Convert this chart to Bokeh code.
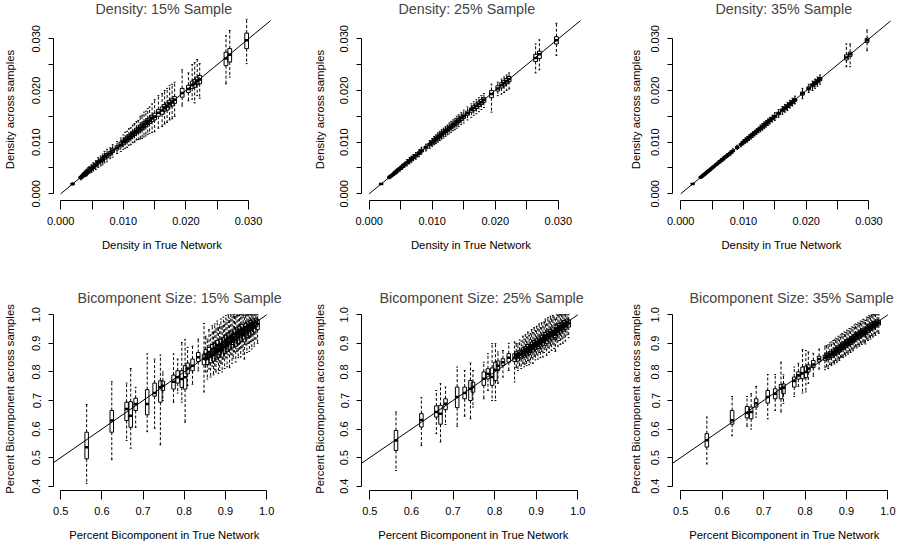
import numpy as np
from bokeh.plotting import figure
from bokeh.layouts import column, row
from bokeh.models import FixedTicker, Range1d
from bokeh.embed import file_html
from bokeh.resources import INLINE

FONT = "Liberation Sans"

# ---------------- Density panels (values in units of 0.0001) ----------------
dens_true = [19, 32, 34, 36, 38, 40, 42, 44, 46, 49, 52, 56, 60, 64, 67, 70, 74, 79, 83, 90,
             96, 100, 103, 106, 109, 112, 115, 118, 121, 124, 127, 130, 133, 136, 139, 142, 146, 150, 156, 162,
             166, 170, 174, 178, 182, 194, 204, 210, 214, 218, 222, 264, 270, 297]

d15_med = [19, 32, 33, 36, 38, 40, 41, 44, 46, 48, 52, 56, 61, 64, 66, 71, 74, 78, 84, 89,
           95, 100, 104, 105, 110, 111, 116, 117, 122, 123, 128, 129, 134, 135, 140, 141, 147, 149, 157, 161,
           167, 169, 175, 177, 182, 195, 203, 211, 213, 219, 221, 262, 269, 297]
d15_q1 = [18, 30, 32, 34, 36, 38, 39, 42, 44, 46, 49, 53, 58, 61, 63, 67, 70, 75, 80, 85,
          91, 96, 99, 101, 105, 107, 111, 113, 117, 119, 122, 124, 128, 130, 134, 136, 140, 143, 150, 154,
          160, 162, 168, 170, 175, 187, 196, 204, 206, 211, 213, 248, 255, 281]
d15_q3 = [20, 33, 35, 38, 40, 42, 44, 46, 48, 51, 55, 59, 64, 67, 70, 74, 78, 82, 88, 93,
          100, 104, 108, 110, 114, 116, 120, 122, 127, 128, 133, 135, 139, 141, 145, 147, 152, 156, 163, 168,
          173, 176, 181, 184, 188, 204, 210, 218, 221, 226, 229, 274, 281, 311]
d15_lo = [17, 27, 29, 31, 33, 34, 35, 38, 40, 41, 44, 47, 51, 54, 56, 60, 62, 68, 71, 78,
          82, 86, 88, 90, 94, 95, 99, 100, 104, 105, 106, 107, 110, 112, 115, 117, 119, 120, 127, 130,
          135, 138, 143, 145, 150, 170, 180, 183, 176, 190, 185, 213, 226, 252]
d15_hi = [21, 36, 38, 41, 44, 46, 48, 51, 53, 56, 60, 64, 70, 73, 77, 82, 86, 89, 95, 101,
          108, 114, 119, 121, 126, 128, 133, 136, 140, 142, 150, 152, 158, 160, 165, 168, 174, 182, 190, 194,
          200, 204, 210, 212, 216, 240, 234, 250, 254, 260, 252, 306, 316, 338]

d25_med = [19, 32, 34, 36, 38, 40, 41, 44, 46, 49, 52, 56, 60, 64, 68, 70, 74, 79, 83, 90,
           96, 100, 102, 106, 109, 112, 115, 119, 121, 124, 127, 130, 133, 135, 139, 142, 146, 150, 156, 163,
           166, 170, 174, 177, 182, 193, 204, 210, 214, 218, 222, 263, 270, 297]
d25_q1 = [18, 31, 33, 35, 37, 39, 40, 43, 45, 47, 50, 54, 58, 62, 65, 68, 71, 76, 81, 87,
          93, 97, 100, 103, 106, 109, 112, 115, 118, 121, 124, 127, 130, 132, 135, 138, 142, 146, 152, 158,
          161, 165, 169, 173, 177, 186, 199, 205, 209, 213, 217, 256, 262, 290]
d25_q3 = [20, 33, 35, 37, 39, 41, 43, 45, 48, 50, 54, 58, 62, 66, 69, 72, 76, 81, 86, 92,
          98, 102, 106, 109, 112, 115, 118, 121, 124, 127, 130, 133, 136, 139, 142, 146, 150, 154, 160, 166,
          170, 174, 178, 182, 186, 200, 209, 215, 219, 223, 227, 270, 276, 304]
d25_lo = [18, 29, 31, 33, 35, 36, 38, 40, 42, 44, 47, 51, 54, 58, 61, 64, 67, 72, 77, 83,
          88, 92, 95, 97, 100, 103, 106, 108, 111, 114, 116, 119, 122, 124, 127, 130, 134, 137, 143, 148,
          152, 155, 159, 163, 167, 158, 190, 193, 196, 200, 203, 234, 240, 268]
d25_hi = [20, 35, 37, 39, 41, 44, 46, 48, 50, 53, 57, 61, 66, 70, 73, 76, 80, 85, 90, 96,
          103, 107, 111, 114, 118, 121, 124, 127, 130, 133, 137, 140, 143, 146, 150, 153, 157, 162, 168, 174,
          178, 182, 186, 190, 194, 212, 216, 222, 226, 230, 234, 290, 298, 330]

d35_med = [19, 32, 34, 36, 38, 40, 42, 44, 46, 49, 52, 56, 60, 64, 67, 70, 74, 79, 83, 90,
           96, 100, 103, 106, 109, 112, 115, 118, 121, 124, 127, 130, 133, 136, 139, 142, 146, 150, 156, 162,
           166, 170, 174, 178, 182, 194, 204, 210, 214, 218, 222, 264, 270, 297]
d35_q1 = [19, 31, 33, 35, 37, 39, 41, 43, 45, 48, 51, 55, 59, 63, 66, 69, 72, 77, 82, 88,
          94, 98, 101, 104, 107, 110, 113, 116, 119, 122, 125, 128, 131, 134, 137, 140, 144, 147, 153, 159,
          163, 167, 171, 175, 179, 191, 201, 207, 211, 215, 219, 259, 266, 293]
d35_q3 = [20, 33, 35, 37, 39, 41, 43, 45, 47, 50, 53, 57, 61, 65, 68, 71, 75, 80, 84, 91,
          97, 102, 105, 108, 111, 114, 117, 120, 123, 126, 129, 132, 135, 138, 141, 144, 148, 152, 158, 164,
          168, 172, 176, 180, 184, 197, 207, 213, 217, 221, 225, 269, 274, 301]
d35_lo = [18, 30, 32, 34, 36, 38, 39, 41, 43, 46, 49, 53, 56, 60, 63, 66, 70, 74, 79, 86,
          91, 95, 98, 100, 103, 106, 109, 112, 115, 118, 120, 123, 126, 129, 132, 135, 139, 142, 148, 154,
          158, 161, 166, 170, 174, 184, 196, 200, 204, 208, 212, 246, 246, 277]
d35_hi = [20, 34, 36, 38, 40, 42, 45, 47, 49, 52, 55, 59, 64, 68, 71, 74, 78, 83, 87, 94,
          100, 105, 108, 111, 114, 117, 120, 123, 126, 129, 133, 136, 139, 142, 145, 148, 152, 157, 163, 169,
          173, 177, 181, 185, 189, 204, 212, 218, 222, 226, 230, 290, 290, 317]

# ---------------- Bicomponent panels (values in units of 0.001) ----------------
bic_true = [563, 624, 660, 670, 682, 710, 728, 742, 748, 774, 784, 794, 802, 808, 820, 834,
            848, 852, 856, 860, 864, 868, 871, 874, 877, 880, 883, 886, 889, 892, 895, 898, 901, 904, 907, 910,
            913, 916, 919, 922, 925, 928, 931, 934, 937, 940, 943, 946, 949, 952, 955, 958, 961, 964, 967, 970,
            974, 978]

b15_med = [536, 630, 670, 647, 688, 688, 726, 746, 752, 766, 781, 775, 781, 812, 822, 851,
           846, 862, 848, 870, 855, 880, 860, 884, 868, 893, 872, 880, 898, 876, 905, 888, 912, 894, 920, 900,
           925, 906, 918, 934, 912, 938, 922, 944, 930, 950, 936, 928, 956, 942, 962, 948, 966, 954, 972, 960,
           976, 968]
b15_q1 = [496, 589, 630, 606, 665, 650, 715, 694, 735, 740, 761, 746, 740, 793, 804, 836,
          825, 842, 826, 850, 832, 858, 838, 865, 845, 872, 850, 860, 876, 852, 884, 865, 890, 872, 898, 878,
          904, 884, 896, 912, 890, 918, 900, 922, 908, 930, 915, 905, 935, 920, 942, 926, 946, 932, 952, 940,
          958, 948]
b15_q3 = [589, 665, 694, 696, 708, 738, 761, 769, 768, 789, 804, 804, 822, 831, 845, 868,
          862, 878, 866, 886, 872, 896, 878, 900, 884, 910, 890, 898, 914, 894, 920, 905, 928, 912, 936, 918,
          940, 924, 935, 950, 930, 954, 940, 960, 948, 966, 954, 946, 970, 960, 975, 966, 980, 972, 985, 978,
          988, 984]
b15_lo = [410, 493, 560, 533, 606, 591, 603, 545, 700, 694, 726, 694, 624, 752, 757, 804,
          730, 800, 775, 810, 782, 820, 790, 808, 800, 835, 795, 805, 830, 800, 845, 812, 850, 818, 860, 815,
          862, 830, 848, 870, 835, 872, 850, 880, 852, 885, 862, 845, 895, 868, 900, 872, 905, 880, 910, 890,
          915, 900]
b15_hi = [686, 766, 761, 812, 746, 863, 845, 859, 800, 863, 845, 903, 913, 886, 890, 915,
          970, 925, 915, 948, 930, 962, 940, 968, 950, 978, 955, 965, 985, 960, 992, 975, 998, 982, 1000, 988,
          1000, 992, 1000, 1000, 995, 1000, 998, 1000, 1000, 1000, 1000, 998, 1000, 1000, 1000, 1000, 1000, 1000, 1000, 1000,
          1000, 1000]

b25_med = [560, 632, 660, 654, 689, 712, 726, 741, 747, 776, 794, 782, 807, 822, 834, 850,
           850, 858, 852, 864, 860, 872, 866, 876, 870, 884, 876, 882, 892, 884, 898, 892, 904, 896, 910, 902,
           916, 906, 918, 926, 914, 930, 922, 936, 928, 942, 934, 930, 952, 944, 958, 950, 962, 956, 968, 962,
           974, 970]
b25_q1 = [525, 607, 642, 617, 668, 675, 706, 700, 729, 753, 776, 753, 770, 805, 823, 834,
          836, 845, 838, 850, 846, 858, 852, 862, 856, 870, 862, 868, 878, 870, 884, 878, 890, 882, 896, 888,
          902, 892, 904, 912, 900, 916, 908, 922, 914, 928, 920, 916, 938, 930, 944, 936, 948, 942, 954, 948,
          962, 957]
b25_q3 = [595, 654, 681, 683, 706, 747, 747, 770, 764, 800, 811, 814, 834, 838, 846, 864,
          864, 870, 865, 876, 872, 884, 878, 888, 882, 896, 888, 894, 904, 896, 910, 904, 916, 908, 922, 914,
          928, 918, 930, 938, 926, 942, 934, 948, 940, 954, 946, 942, 964, 956, 970, 962, 974, 968, 980, 974,
          985, 982]
b25_lo = [455, 542, 584, 555, 616, 610, 645, 636, 677, 706, 735, 700, 700, 760, 782, 805,
          765, 815, 805, 822, 812, 830, 818, 828, 822, 840, 825, 832, 850, 830, 855, 842, 862, 845, 868, 850,
          872, 852, 868, 880, 858, 885, 868, 892, 875, 898, 882, 872, 905, 890, 910, 896, 915, 900, 922, 908,
          930, 920]
b25_hi = [660, 710, 735, 759, 747, 817, 805, 831, 805, 834, 864, 899, 899, 870, 875, 900,
          905, 900, 898, 912, 908, 925, 915, 930, 922, 940, 928, 935, 948, 938, 955, 945, 960, 950, 968, 955,
          972, 960, 975, 985, 968, 990, 978, 995, 985, 998, 992, 985, 1000, 998, 1000, 1000, 1000, 1000, 1000, 1000,
          1000, 1000]

b35_med = [561, 631, 656, 660, 690, 712, 724, 742, 745, 768, 788, 795, 800, 812, 826, 845,
           850, 855, 853, 862, 861, 868, 866, 875, 872, 882, 878, 886, 890, 888, 897, 895, 903, 900, 909, 906,
           915, 912, 920, 924, 922, 930, 928, 936, 934, 942, 940, 938, 952, 948, 958, 954, 963, 960, 968, 966,
           974, 972]
b35_q1 = [537, 617, 639, 636, 677, 691, 706, 706, 724, 747, 775, 776, 780, 800, 815, 835,
          841, 846, 843, 853, 851, 859, 858, 866, 862, 873, 870, 877, 880, 879, 888, 885, 894, 892, 900, 896,
          906, 903, 910, 915, 914, 921, 918, 927, 925, 932, 931, 930, 943, 938, 949, 946, 954, 950, 959, 957,
          965, 964]
b35_q3 = [584, 665, 679, 677, 706, 735, 741, 756, 758, 782, 800, 817, 820, 825, 840, 855,
          859, 865, 862, 870, 871, 877, 874, 884, 882, 891, 886, 895, 900, 897, 905, 904, 913, 909, 917, 915,
          924, 921, 930, 933, 930, 939, 938, 945, 942, 951, 948, 947, 960, 957, 967, 962, 972, 968, 977, 974,
          982, 981]
b35_lo = [478, 577, 610, 600, 642, 636, 665, 660, 690, 714, 750, 726, 730, 760, 785, 810,
          808, 818, 812, 826, 822, 832, 828, 840, 834, 846, 840, 850, 854, 850, 862, 856, 868, 862, 874, 868,
          880, 874, 884, 890, 884, 896, 890, 902, 896, 908, 902, 898, 915, 910, 922, 915, 928, 922, 934, 928,
          940, 935]
b35_hi = [642, 714, 714, 724, 749, 791, 791, 834, 790, 817, 830, 878, 875, 870, 865, 880,
          890, 892, 895, 902, 905, 910, 912, 918, 915, 925, 922, 930, 934, 932, 940, 938, 946, 944, 952, 950,
          958, 955, 964, 968, 965, 972, 970, 978, 976, 984, 982, 980, 992, 990, 998, 995, 1000, 1000, 1000, 1000,
          1000, 1000]

dens_ticks = [0.0, 0.005, 0.01, 0.015, 0.02, 0.025, 0.03]
dens_tick_labels = ["0.000", "", "0.010", "", "0.020", "", "0.030"]
bic_xticks = [0.5, 0.6, 0.7, 0.8, 0.9, 1.0]
bic_xtick_labels = ["0.5", "0.6", "0.7", "0.8", "0.9", "1.0"]
bic_yticks = [0.4, 0.5, 0.6, 0.7, 0.8, 0.9, 1.0]
bic_ytick_labels = ["0.4", "0.5", "0.6", "0.7", "0.8", "0.9", "1.0"]
ref_line = [0.0, 1.0]


def style_axis(ax, ticks, labels, bounds, tick_out, lab_standoff, axlab_standoff, vertical=False):
    ax.ticker = FixedTicker(ticks=ticks)
    ax.major_label_overrides = {t: l for t, l in zip(ticks, labels)}
    ax.bounds = bounds
    ax.axis_line_color = "black"
    ax.major_tick_line_color = "black"
    ax.minor_tick_line_color = None
    ax.major_tick_in = 0
    ax.major_tick_out = tick_out
    ax.major_label_standoff = lab_standoff
    ax.axis_label_standoff = axlab_standoff
    ax.major_label_text_font = FONT
    ax.major_label_text_font_size = "11px"
    ax.major_label_text_color = "black"
    ax.axis_label_text_font = FONT
    ax.axis_label_text_font_size = "11.3px"
    ax.axis_label_text_font_style = "normal"
    ax.axis_label_text_color = "black"
    if vertical:
        ax.major_label_orientation = "vertical"


def panel(title, xs, med, q1, q3, lo, hi, unit, box_w, xr, yr, kind, width, height,
          bl, br, bt, bb, title_offset, ylab_standoff, xlab_standoff):
    x = np.array(xs) / unit
    m = np.array(med) / unit
    a = np.array(q1) / unit
    b = np.array(q3) / unit
    l = np.array(lo) / unit
    h = np.array(hi) / unit
    p = figure(width=width, height=height, x_range=Range1d(*xr), y_range=Range1d(*yr),
               output_backend="svg", toolbar_location=None,
               min_border_left=bl, min_border_right=br, min_border_top=bt, min_border_bottom=bb,
               title=title)
    p.grid.visible = False
    p.outline_line_color = None
    p.background_fill_color = "white"
    p.border_fill_color = "white"
    p.title.text_font = FONT
    p.title.text_font_size = "14.3px"
    p.title.text_font_style = "normal"
    p.title.align = "left"
    p.title.offset = title_offset
    p.title.standoff = 0
    p.title.vertical_align = "top"

    # whiskers (dashed) and staples
    p.segment(x0=x, y0=b, x1=x, y1=h, line_color="black", line_width=1, line_dash="3 2")
    p.segment(x0=x, y0=a, x1=x, y1=l, line_color="black", line_width=1, line_dash="3 2")
    p.segment(x0=x - box_w / 4, y0=h, x1=x + box_w / 4, y1=h, line_color="black", line_width=1)
    p.segment(x0=x - box_w / 4, y0=l, x1=x + box_w / 4, y1=l, line_color="black", line_width=1)
    # boxes (unfilled, as on a transparent device) and medians
    p.quad(left=x - box_w / 2, right=x + box_w / 2, bottom=a, top=b,
           fill_color=None, line_color="black", line_width=1)
    p.segment(x0=x - box_w / 2, y0=m, x1=x + box_w / 2, y1=m, line_color="black", line_width=2.5)
    # identity reference line
    p.segment(x0=ref_line[0], y0=ref_line[0], x1=ref_line[1], y1=ref_line[1],
              line_color="black", line_width=1)

    if kind == "density":
        style_axis(p.xaxis[0], dens_ticks, dens_tick_labels, (0.0, 0.03), 9, 7, xlab_standoff)
        style_axis(p.yaxis[0], dens_ticks, dens_tick_labels, (0.0, 0.03), 5, 8, ylab_standoff, True)
        p.xaxis.axis_label = "Density in True Network"
        p.yaxis.axis_label = "Density across samples"
    else:
        style_axis(p.xaxis[0], bic_xticks, bic_xtick_labels, (0.5, 1.0), 9, 7, xlab_standoff)
        style_axis(p.yaxis[0], bic_yticks, bic_ytick_labels, (0.4, 1.0), 5, 8, ylab_standoff, True)
        p.xaxis.axis_label = "Percent Bicomponent in True Network"
        p.yaxis.axis_label = "Percent Bicomponent across samples"
    return p


DU = 1e4
BU = 1e3
dy = (-0.0013, 0.03393)
by = (0.385, 1.0255)

f1 = panel("Density: 15% Sample", dens_true, d15_med, d15_q1, d15_q3, d15_lo, d15_hi, DU, 0.0006,
           (-0.00115, 0.03351), dy, "density", 310, 286, 50, 40, 18, 86, 42, 14, 11)
f2 = panel("Density: 25% Sample", dens_true, d25_med, d25_q1, d25_q3, d25_lo, d25_hi, DU, 0.0006,
           (-0.00122, 0.03352), dy, "density", 316, 286, 50, 46, 18, 86, 37, 12, 11)
f3 = panel("Density: 35% Sample", dens_true, d35_med, d35_q1, d35_q3, d35_lo, d35_hi, DU, 0.0006,
           (-0.00131, 0.03343), dy, "density", 274, 286, 44, 10, 18, 86, 43, 7, 11)

f4 = panel("Bicomponent Size: 15% Sample", bic_true, b15_med, b15_q1, b15_q3, b15_lo, b15_hi, BU, 0.0085,
           (0.4825, 1.0215), by, "bic", 310, 257, 50, 35, 21, 53, 24, 14, 11)
f5 = panel("Bicomponent Size: 25% Sample", bic_true, b25_med, b25_q1, b25_q3, b25_lo, b25_hi, BU, 0.0085,
           (0.4801, 1.0184), by, "bic", 316, 257, 50, 41, 21, 53, 18, 12, 11)
f6 = panel("Bicomponent Size: 35% Sample", bic_true, b35_med, b35_q1, b35_q3, b35_lo, b35_hi, BU, 0.0085,
           (0.4801, 1.0208), by, "bic", 274, 257, 44, 4, 21, 53, 17, 7, 11)

layout = column(row(f1, f2, f3), row(f4, f5, f6))
open("out.html", "w").write(file_html(layout, INLINE))
